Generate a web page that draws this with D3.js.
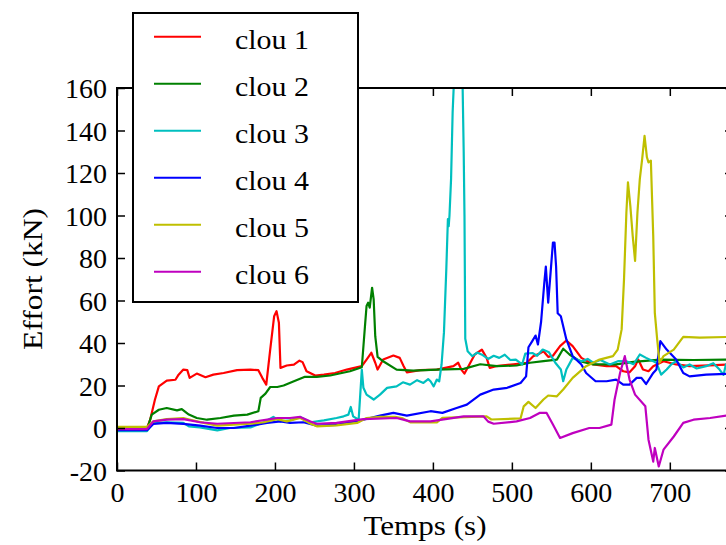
<!DOCTYPE html>
<html><head><meta charset="utf-8">
<script src="https://cdn.jsdelivr.net/npm/d3@7"></script>
<style>html,body{margin:0;padding:0;background:#fff;}svg{display:block;}</style>
</head><body>
<script>
const seriesNames = ["clou 1","clou 2","clou 3","clou 4","clou 5","clou 6"];
const seriesColors = ["#ff0000","#008000","#00bfbf","#0000ff","#bfbf00","#bf00bf"];
const xTicks = [0,100,200,300,400,500,600,700];
const yTicks = [-20,0,20,40,60,80,100,120,140,160];

const t1 = [0,20,38,42,48,53,63,74,78,84,89,92,101,112,122,135,152,169,179,184,189,194,199,202,205,207,215,224,231,235,240,251,262,276,291,310,316,322,327,330,337,350,358,363,367,384,405,426,432,436,440,445,453,462,468,472,480,502,519,527,535,540,546,552,561,569,577,588,603,620,632,641,649,656,660,666,673,679,692,708,725,750,780];
const v1 = [0,0,0,3.9,13.3,19.6,22.3,22.7,25.1,27.5,27.2,23.6,25.6,23.9,25.1,25.9,27.2,27.5,27.2,23.6,20.4,36.9,52.6,55.0,49.5,28.3,29.4,29.8,31.7,31.0,26.7,24.7,25.1,25.9,27.5,29.1,32.2,35.4,30.7,27.5,32.2,34.1,33.0,29.1,26.2,27.2,27.5,29.1,30.7,27.5,25.6,29.1,34.6,36.9,33.0,28.3,29.1,30.0,30.7,33.8,35.0,36.1,33.5,34.0,38.5,41.2,38.5,33.0,29.9,29.1,29.1,26.7,26.2,29.1,32.2,27.5,26.7,29.1,31.4,29.9,29.1,29.5,30.0];

const t2 = [0,38,44,53,63,76,82,91,101,114,131,148,165,179,182,188,194,203,211,224,238,253,270,295,310,314,316,318,320,323,325,327,330,337,354,375,405,439,460,481,506,523,540,557,565,573,586,603,632,654,688,730,780];
const v2 = [-1,-0.8,6.3,8.6,9.4,8.3,8.9,6.3,4.7,3.9,4.7,5.8,6.3,7.9,14.2,16.2,19.3,19.3,20.0,22.0,24.1,24.1,24.7,26.7,28.6,48.0,57.4,59.0,56.6,66.0,60.5,43.2,33.5,31.4,27.5,27.0,27.5,27.8,30.0,29.1,29.4,30.7,31.5,32.2,37.3,34.6,31.4,29.9,29.9,31.1,32.2,32.0,32.2];

const t3 = [0,38,46,63,84,91,105,127,143,169,186,198,207,219,232,245,262,278,287,293,296,299,306,310,312,316,325,333,342,354,362,371,380,388,394,397,401,405,408,411,414,417,419,420,421,423,425,428,433,437,439,440,441,444,450,456,463,470,477,484,491,498,505,513,517,526,532,539,547,555,562,565,569,577,588,596,603,612,624,635,645,654,662,670,683,689,696,702,708,717,725,734,746,755,763,768,771,780];
const v3 = [-1.5,-1.5,2.4,2.7,2.4,0.8,0.3,-1.1,0,0.3,2.7,5.2,3.1,3.6,5.2,2.7,3.6,4.7,5.5,6.3,9.9,5.5,3.9,27.5,18.9,15.7,13.4,15.7,18.9,19.6,21.5,20.4,22.5,21.2,23.0,22.0,19.6,22.8,22.0,30.0,45.0,75.0,98.3,95.0,100.0,117.1,148.6,175,180,175,130,100,42,36.1,33.8,35.5,34.3,32.5,34.0,33.0,34.5,32.0,32.2,29.9,35.0,35.3,34.0,36.9,35.6,30.7,27.5,22.0,27.5,33.0,31.4,32.5,30.7,32.0,29.9,31.5,31.4,30.0,34.6,33.0,30.7,25.1,27.5,30.0,31.4,28.5,29.9,28.0,29.1,30.5,27.5,25.0,29.9,28.5];

const t4 = [0,38,46,63,84,105,127,148,169,190,207,219,236,253,278,312,333,350,367,397,412,430,443,460,477,494,511,518,521,526,530,533,537,541,543,546,549,552,554,556,558,562,569,577,588,594,606,620,632,641,649,658,664,670,679,683,688,696,708,717,725,746,780];
const v4 = [-1,-1,1.9,2.4,1.9,1.1,0,0,1.1,2.4,3.1,2.4,2.7,1.1,1.5,3.9,5.8,7.1,5.8,7.9,7.1,9.4,11.0,15.7,18.1,18.9,21.2,24.3,38.0,41.0,43.5,39.3,50.0,68.0,76.0,59.0,73.0,87.3,87.3,76.0,54.0,52.6,41.7,33.8,29.9,25.9,22.0,22.0,22.8,20.4,20.4,23.6,23.6,20.7,25.9,27.5,40.9,36.9,32.2,25.9,24.3,25.1,25.6];

const t5 = [0,38,46,63,84,93,110,127,148,169,186,203,215,232,243,253,278,304,316,333,352,362,372,405,412,468,474,511,515,521,530,540,546,557,565,577,594,611,628,634,639,642,645,647,650,653,656,659,662,665,668,671,673,676,679,681,684,687,692,705,717,738,780];
const v5 = [0.5,0.5,3.1,4.2,4.7,3.9,2.4,1.1,1.6,2.0,2.7,4.2,3.1,4.7,2.4,0.8,1.2,2.4,4.7,5.2,5.2,4.5,2.6,2.6,4.8,5.5,4.0,4.5,10.2,12.3,9.4,13.4,15.3,14.9,18.1,23.6,29.1,32.2,33.8,36.9,46.4,70.0,101.4,115.6,104.5,90.4,78.6,101.4,117.1,126.6,137.5,127.4,125.0,125.8,90.4,54.2,41.7,30.7,33.8,36.9,42.9,42.5,42.9];

const t6 = [0,38,46,63,84,105,127,169,203,219,232,245,253,278,312,354,371,397,439,464,470,477,506,523,535,544,552,561,577,598,611,626,630,637,643,649,656,669,673,679,681,686,692,705,717,730,751,780];
const v6 = [-0.5,-0.5,3.1,3.9,4.2,2.7,2.0,2.7,4.7,4.7,5.2,3.1,2.0,2.4,4.2,4.7,3.1,3.1,5.5,5.5,3.0,2.0,3.1,4.7,7.1,7.1,1.6,-4.7,-2.4,0,0,1.6,13.3,25.9,33.8,22.8,15.7,10.2,-5.5,-15.8,-9.4,-18.1,-10.2,-4.0,2.4,3.9,4.7,6.3];

const times = [t1,t2,t3,t4,t5,t6];
const values = [v1,v2,v3,v4,v5,v6];

const W = 726, H = 545;
const L = 117, R = 733, T = 88, B = 470.5;
const FONT = '"Liberation Serif"';

const svg = d3.select("body").append("svg").attr("width", W).attr("height", H);
const x = d3.scaleLinear().domain([0, 780]).range([L, R]);
const y = d3.scaleLinear().domain([-20, 160]).range([B, T]);

svg.append("defs").append("clipPath").attr("id","clip")
  .append("rect").attr("x", L).attr("y", T).attr("width", R - L).attr("height", B - T);

const line = d3.line().x(d => x(d[0])).y(d => y(d[1]));
const g = svg.append("g").attr("clip-path","url(#clip)");
seriesNames.forEach((name, i) => {
  const pts = times[i].map((t, j) => [t, values[i][j]]);
  g.append("path").datum(pts).attr("d", line)
    .attr("fill","none").attr("stroke", seriesColors[i])
    .attr("stroke-width", 2.2).attr("stroke-linejoin","round");
});

const tl = 8;
const axB = d3.axisBottom(x).tickValues(xTicks).tickSizeInner(-tl).tickSizeOuter(0).tickFormat(d3.format("d"));
const axT = d3.axisTop(x).tickValues(xTicks).tickSizeInner(-tl).tickSizeOuter(0).tickFormat("");
const axL = d3.axisLeft(y).tickValues(yTicks).tickSizeInner(-tl).tickSizeOuter(0).tickPadding(10).tickFormat(d => d < 0 ? "-" + Math.abs(d) : d);
const axR = d3.axisRight(y).tickValues(yTicks).tickSizeInner(-tl).tickSizeOuter(0).tickFormat("");

function style(sel){
  sel.attr("font-family", null);
  sel.select(".domain").remove();
  sel.selectAll(".tick line").attr("stroke","#000").attr("stroke-width",1.5);
  sel.selectAll(".tick text").style("font-family", FONT).style("font-size", "28px").attr("fill","#000");
}
svg.append("g").attr("transform",`translate(0,${B})`).call(axB).call(style)
  .selectAll(".tick text").attr("dy", null).attr("y", 31);
svg.append("g").attr("transform",`translate(0,${T})`).call(axT).call(style);
svg.append("g").attr("transform",`translate(${L},0)`).call(axL).call(style)
  .selectAll(".tick text").attr("dy", "0.34em");
svg.append("g").attr("transform",`translate(${R},0)`).call(axR).call(style);

svg.append("rect").attr("x", L).attr("y", T).attr("width", R - L).attr("height", B - T)
  .attr("fill","none").attr("stroke","#000").attr("stroke-width",2);

svg.append("text").attr("x", 425).attr("y", 535)
  .attr("text-anchor","middle").style("font-family", FONT).style("font-size", "28px")
  .attr("textLength", 123).attr("lengthAdjust","spacingAndGlyphs").text("Temps (s)");
svg.append("text").attr("transform","translate(42,279) rotate(-90)")
  .attr("text-anchor","middle").style("font-family", FONT).style("font-size", "28px")
  .attr("textLength", 142).attr("lengthAdjust","spacingAndGlyphs").text("Effort (kN)");

const lg = svg.append("g");
lg.append("rect").attr("x",133).attr("y",13).attr("width",225).attr("height",289)
  .attr("fill","#fff").attr("stroke","#000").attr("stroke-width",2);
seriesNames.forEach((name, i) => {
  const cy = 36.7 + 47 * i;
  lg.append("line").attr("x1",154).attr("x2",201).attr("y1",cy).attr("y2",cy)
    .attr("stroke", seriesColors[i]).attr("stroke-width",2);
  lg.append("text").attr("x",235).attr("y",cy + 12)
    .style("font-family", FONT).style("font-size", "28px")
    .attr("textLength", 74).attr("lengthAdjust","spacingAndGlyphs").text(name);
});
</script>
</body></html>
